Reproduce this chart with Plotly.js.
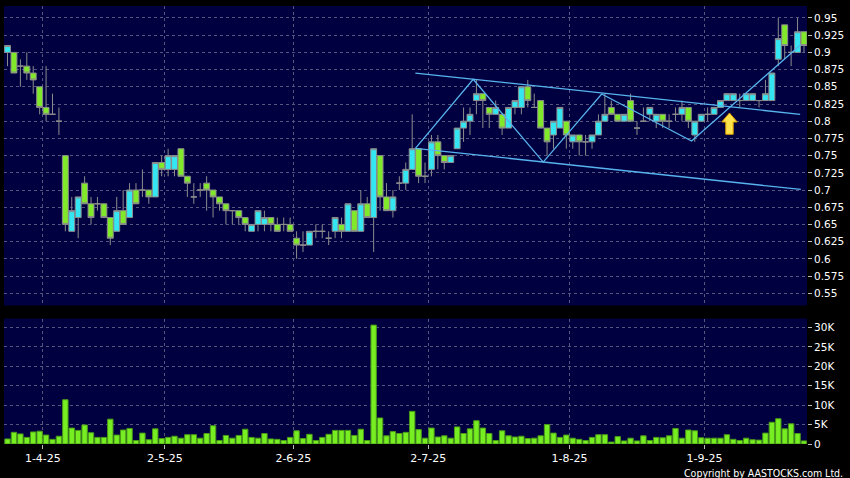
<!DOCTYPE html>
<html><head><meta charset="utf-8">
<script src="https://cdn.plot.ly/plotly-3.0.1.min.js"></script>
<style>html,body{margin:0;padding:0;background:#000;} #chart{width:850px;height:478px;}</style>
</head><body><div id="chart"></div>
<script>
const dates = [
"2025-03-24","2025-03-25","2025-03-26","2025-03-27","2025-03-28","2025-03-31",
"2025-04-01","2025-04-02","2025-04-03","2025-04-07","2025-04-08","2025-04-09","2025-04-10","2025-04-11","2025-04-14","2025-04-15","2025-04-16","2025-04-17","2025-04-22","2025-04-23","2025-04-24","2025-04-25","2025-04-28","2025-04-29","2025-04-30",
"2025-05-02","2025-05-06","2025-05-07","2025-05-08","2025-05-09","2025-05-12","2025-05-13","2025-05-14","2025-05-15","2025-05-16","2025-05-19","2025-05-20","2025-05-21","2025-05-22","2025-05-23","2025-05-26","2025-05-27","2025-05-28","2025-05-29","2025-05-30",
"2025-06-02","2025-06-03","2025-06-04","2025-06-05","2025-06-06","2025-06-09","2025-06-10","2025-06-11","2025-06-12","2025-06-13","2025-06-16","2025-06-17","2025-06-18","2025-06-19","2025-06-20","2025-06-23","2025-06-24","2025-06-25","2025-06-26","2025-06-27","2025-06-30",
"2025-07-02","2025-07-03","2025-07-04","2025-07-07","2025-07-08","2025-07-09","2025-07-10","2025-07-11","2025-07-14","2025-07-15","2025-07-16","2025-07-17","2025-07-18","2025-07-21","2025-07-22","2025-07-23","2025-07-24","2025-07-25","2025-07-28","2025-07-29","2025-07-30","2025-07-31",
"2025-08-01","2025-08-04","2025-08-05","2025-08-06","2025-08-07","2025-08-08","2025-08-11","2025-08-12","2025-08-13","2025-08-14","2025-08-15","2025-08-18","2025-08-19","2025-08-20","2025-08-21","2025-08-22","2025-08-25","2025-08-26","2025-08-27","2025-08-28","2025-08-29",
"2025-09-01","2025-09-02","2025-09-03","2025-09-04","2025-09-05","2025-09-08","2025-09-09","2025-09-10","2025-09-11","2025-09-12","2025-09-15","2025-09-16","2025-09-17","2025-09-18","2025-09-19","2025-09-22"
];

const open = [
0.90,0.90,0.88,0.88,0.87,0.85,0.82,0.81,0.80,0.75,
0.64,0.66,0.71,0.68,0.68,0.68,0.66,0.64,0.67,0.66,
0.70,0.70,0.70,0.69,0.74,0.73,0.73,0.76,0.72,0.69,
0.70,0.71,0.70,0.69,0.68,0.67,0.67,0.66,0.64,0.65,
0.65,0.66,0.65,0.65,0.65,0.63,0.62,0.62,0.64,0.64,
0.63,0.64,0.65,0.64,0.67,0.64,0.68,0.66,0.75,0.69,
0.67,0.71,0.71,0.73,0.76,0.72,0.73,0.77,0.75,0.74,
0.76,0.79,0.80,0.83,0.84,0.82,0.81,0.81,0.79,0.82,
0.82,0.85,0.82,0.83,0.79,0.78,0.79,0.80,0.77,0.78,
0.77,0.77,0.78,0.80,0.82,0.81,0.80,0.83,0.79,0.80,
0.81,0.80,0.81,0.80,0.81,0.81,0.82,0.78,0.80,0.81,
0.81,0.82,0.83,0.83,0.83,0.83,0.83,0.83,0.83,0.83,
0.89,0.94,0.90,0.90,0.93
];
const high = [
0.91,0.90,0.89,0.90,0.88,0.85,0.88,0.84,0.82,0.75,
0.69,0.69,0.72,0.69,0.69,0.68,0.66,0.69,0.70,0.71,
0.71,0.73,0.70,0.74,0.75,0.76,0.75,0.76,0.72,0.71,
0.71,0.72,0.70,0.69,0.68,0.67,0.67,0.66,0.65,0.67,
0.67,0.66,0.66,0.66,0.66,0.64,0.64,0.64,0.65,0.65,
0.64,0.66,0.66,0.68,0.67,0.70,0.69,0.76,0.75,0.71,
0.70,0.72,0.74,0.81,0.76,0.74,0.78,0.78,0.75,0.75,
0.79,0.82,0.82,0.86,0.84,0.82,0.83,0.81,0.82,0.83,
0.85,0.86,0.84,0.83,0.79,0.80,0.82,0.80,0.78,0.78,
0.78,0.78,0.81,0.84,0.83,0.81,0.81,0.84,0.80,0.82,
0.82,0.81,0.81,0.81,0.82,0.83,0.82,0.80,0.81,0.82,
0.82,0.83,0.84,0.84,0.84,0.84,0.84,0.83,0.86,0.87,
0.95,0.94,0.91,0.95,0.93
];
const low = [
0.88,0.87,0.85,0.86,0.84,0.81,0.80,0.81,0.78,0.64,
0.64,0.63,0.68,0.65,0.67,0.66,0.62,0.64,0.65,0.66,
0.68,0.69,0.68,0.69,0.72,0.72,0.72,0.72,0.69,0.68,
0.69,0.67,0.66,0.67,0.65,0.65,0.65,0.64,0.64,0.64,
0.64,0.64,0.64,0.64,0.64,0.60,0.61,0.62,0.63,0.63,
0.62,0.63,0.63,0.64,0.64,0.64,0.66,0.61,0.67,0.67,
0.66,0.70,0.70,0.73,0.71,0.71,0.72,0.73,0.73,0.74,
0.76,0.77,0.78,0.81,0.79,0.79,0.81,0.78,0.79,0.81,
0.81,0.82,0.82,0.79,0.75,0.76,0.79,0.76,0.76,0.75,
0.75,0.76,0.78,0.80,0.81,0.80,0.80,0.80,0.78,0.80,
0.80,0.79,0.79,0.79,0.80,0.80,0.79,0.77,0.80,0.80,
0.81,0.82,0.83,0.83,0.82,0.83,0.83,0.82,0.83,0.83,
0.88,0.89,0.88,0.90,0.90
];
const close = [
0.91,0.87,0.88,0.87,0.86,0.82,0.81,0.81,0.80,0.65,
0.67,0.69,0.68,0.66,0.68,0.66,0.63,0.67,0.65,0.70,
0.68,0.70,0.69,0.74,0.73,0.75,0.75,0.72,0.71,0.69,
0.70,0.70,0.69,0.68,0.67,0.67,0.66,0.65,0.65,0.67,
0.66,0.65,0.64,0.65,0.64,0.62,0.62,0.64,0.64,0.64,
0.63,0.66,0.64,0.68,0.64,0.68,0.66,0.76,0.69,0.67,
0.69,0.71,0.73,0.76,0.72,0.72,0.77,0.75,0.74,0.75,
0.79,0.80,0.81,0.84,0.83,0.81,0.82,0.79,0.82,0.83,
0.85,0.83,0.82,0.79,0.77,0.80,0.82,0.78,0.78,0.77,
0.77,0.78,0.80,0.81,0.81,0.80,0.81,0.80,0.79,0.80,
0.82,0.81,0.80,0.80,0.81,0.82,0.80,0.80,0.81,0.81,
0.82,0.83,0.84,0.84,0.83,0.84,0.84,0.83,0.84,0.87,
0.92,0.91,0.90,0.93,0.91
];
const volume = [
1300,3000,2600,1700,3100,3300,2300,1200,2000,11400,
4100,3500,4900,2900,1700,1700,6400,2300,3600,4000,
900,2800,1100,3900,1400,1700,2000,1500,2400,2400,
1500,2700,4700,900,2200,1500,2200,3800,1700,1500,
2700,1300,1200,900,1700,3400,1400,2500,900,1700,
2500,3500,3500,3500,2200,3800,900,30600,6700,2100,
3200,2700,3000,8400,3700,1500,4100,1800,2100,1500,
4400,2700,3900,6000,4100,2700,900,3400,2100,1800,
2000,1400,1500,2100,5000,2800,1700,2300,1500,1200,
900,1700,2400,2400,500,1900,800,1500,800,2100,
900,1700,1600,2100,4000,1500,3600,3400,1600,1500,
1500,1500,2400,1200,900,1500,1100,1000,2800,5600,
6500,3900,5200,2700,800
];

const monthStarts = ["2025-04-01","2025-05-02","2025-06-02","2025-07-02","2025-08-01","2025-09-01"];
const monthLabels = ["1-4-25","2-5-25","2-6-25","2-7-25","1-8-25","1-9-25"];
const priceTicks = [0.55,0.575,0.6,0.625,0.65,0.675,0.7,0.725,0.75,0.775,0.8,0.825,0.85,0.875,0.9,0.925,0.95];
const priceTickLabels = ["0.55","0.575","0.6","0.625","0.65","0.675","0.7","0.725","0.75","0.775","0.8","0.825","0.85","0.875","0.9","0.925","0.95"];
const volTicks = [0,5000,10000,15000,20000,25000,30000];
const volTickLabels = ["0","5K","10K","15K","20K","25K","30K"];

// drawn trend lines (trading-day position, price)
const channelTopX = [63.5,123.4], channelTopY = [0.870,0.810];
const channelBottomX = [63.5,123.5], channelBottomY = [0.7605,0.7009];
const zigzagX = [63.5,72.5,83.4,92.5,106.5,123.5];
const zigzagY = [0.7605,0.861,0.7406,0.8395,0.7712,0.9112];
const arrowPos = [112.4, 0.781];

const xIdx = dates.map((d,i)=>i);
const monthTickPos = monthStarts.map(d=>dates.indexOf(d)-0.5);

const gridCol = '#55557d';
const lineCol = '#58b4ee';
const tickFont = {family:'DejaVu Sans, Verdana, sans-serif', size:11, color:'#ffffff'};

const traces = [
 {type:'candlestick', x:xIdx, open:open, high:high, low:low, close:close, xaxis:'x', yaxis:'y',
  increasing:{line:{color:'#8c8c8c',width:1}, fillcolor:'#33e6f2'},
  decreasing:{line:{color:'#8c8c8c',width:1}, fillcolor:'#80ea2a'},
  whiskerwidth:0, hoverinfo:'skip', showlegend:false},
 {type:'bar', x:xIdx, y:volume, xaxis:'x', yaxis:'y2',
  marker:{color:'#77ee22', line:{color:'#4a9a18', width:1}}, hoverinfo:'skip', showlegend:false},
 {type:'scatter', mode:'lines', x:channelTopX, y:channelTopY, xaxis:'x', yaxis:'y', line:{color:lineCol,width:1.3}, hoverinfo:'skip', showlegend:false},
 {type:'scatter', mode:'lines', x:channelBottomX, y:channelBottomY, xaxis:'x', yaxis:'y', line:{color:lineCol,width:1.3}, hoverinfo:'skip', showlegend:false},
 {type:'scatter', mode:'lines', x:zigzagX, y:zigzagY, xaxis:'x', yaxis:'y', line:{color:lineCol,width:1.3}, hoverinfo:'skip', showlegend:false}
];

const layout = {
 width:850, height:478,
 paper_bgcolor:'#000000', plot_bgcolor:'#000040',
 margin:{l:3.5, r:42.7, t:6, b:34.3, pad:0},
 showlegend:false, hovermode:false,
 boxgap:0.06, boxgroupgap:0.02, bargap:0.16,
 xaxis:{range:[-0.55,124.47], anchor:'y2', tickmode:'array', tickvals:monthTickPos, ticktext:monthLabels,
   showgrid:true, gridcolor:gridCol, griddash:'3px,3px', gridwidth:1, zeroline:false, showline:false,
   ticks:'outside', ticklen:4, tickcolor:'#bbbbbb', tickfont:tickFont, rangeslider:{visible:false}, fixedrange:true},
 yaxis:{domain:[0.3162,1], range:[0.5322,0.9674], side:'right', anchor:'x', tickmode:'array', tickvals:priceTicks, ticktext:priceTickLabels,
   showgrid:true, gridcolor:gridCol, griddash:'3px,3px', gridwidth:1, zeroline:false, showline:false,
   ticks:'outside', ticklen:4, tickcolor:'#bbbbbb', tickfont:Object.assign({},tickFont,{size:10.5}), fixedrange:true},
 yaxis2:{domain:[0,0.2865], range:[0,32300], side:'right', anchor:'x', tickmode:'array', tickvals:volTicks, ticktext:volTickLabels,
   showgrid:true, gridcolor:gridCol, griddash:'3px,3px', gridwidth:1, zeroline:false, showline:false,
   ticks:'outside', ticklen:4, tickcolor:'#bbbbbb', tickfont:Object.assign({},tickFont,{size:10.5}), fixedrange:true},
 shapes:[
  {type:'path', xref:'x', yref:'y', xsizemode:'pixel', ysizemode:'pixel', xanchor:arrowPos[0], yanchor:arrowPos[1],
   path:'M -3.7 0 L 3.7 0 L 3.7 12.3 L 7.7 12.3 L 0 21.3 L -7.7 12.3 L -3.7 12.3 Z',
   fillcolor:'#ffe34a', line:{color:'#e0a000', width:1}}
 ],
 annotations:[
  {xref:'paper', yref:'paper', x:1.0469, y:-0.066, xanchor:'right', yanchor:'middle', showarrow:false,
   text:'Copyright by AASTOCKS.com Ltd.', font:{family:'DejaVu Sans Condensed, DejaVu Sans, sans-serif', size:10.5, color:'#ffffff'}}
 ]
};

Plotly.newPlot('chart', traces, layout, {staticPlot:true, displayModeBar:false});
</script>
</body></html>
